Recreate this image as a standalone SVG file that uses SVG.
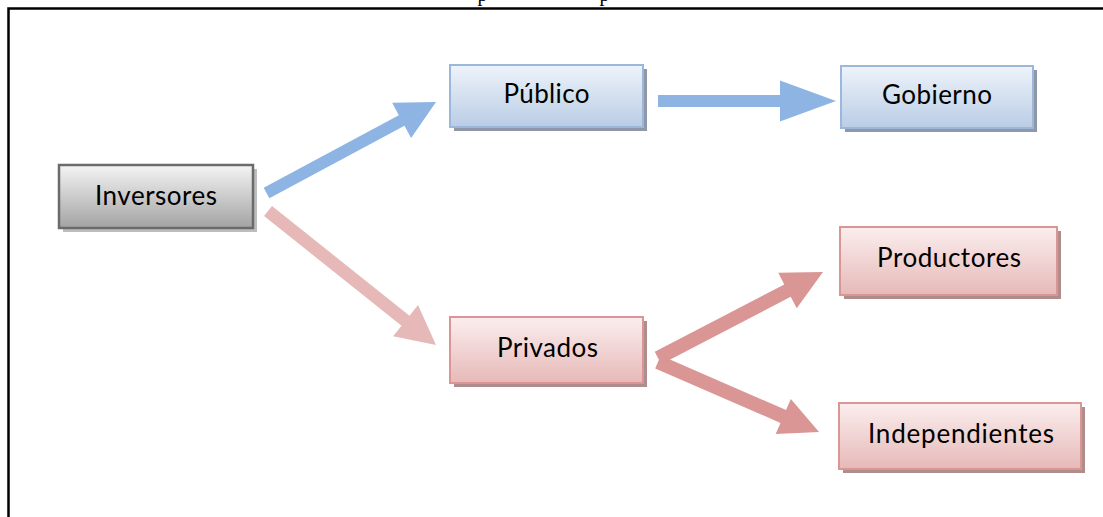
<svg xmlns="http://www.w3.org/2000/svg" width="1103" height="517" viewBox="0 0 1103 517">
  <style>
    .frame { fill: none; stroke: #000; stroke-width: 2.5; }
    .cut { font-family: "Liberation Serif", serif; font-size: 20px; fill: #000; }
    .label { font-family: Lato, "Liberation Sans", sans-serif; font-size: 26px; fill: #000; text-anchor: middle; }
    .gray .box { fill: url(#gGray); stroke: #6b6b6b; stroke-width: 2.5; }
    .gray .shadow { fill: #bdbdbd; }
    .blue .box { fill: url(#gBlue); stroke: #9bb7d9; stroke-width: 2; }
    .blue .shadow { fill: #8e98a8; }
    .red .box { fill: url(#gRed); stroke: #d99694; stroke-width: 2; }
    .red .shadow { fill: #b08d8d; }
    .arr-blue { fill: #8eb4e3; }
    .arr-light { fill: #e6b9b8; }
    .arr-red { fill: #d99694; }
  </style>
  <defs>
    <linearGradient id="gGray" x1="0" y1="0" x2="0" y2="1">
      <stop offset="0" stop-color="#f4f4f4"/>
      <stop offset="1" stop-color="#a3a3a3"/>
    </linearGradient>
    <linearGradient id="gBlue" x1="0" y1="0" x2="0" y2="1">
      <stop offset="0" stop-color="#eef3fa"/>
      <stop offset="1" stop-color="#b9cde5"/>
    </linearGradient>
    <linearGradient id="gRed" x1="0" y1="0" x2="0" y2="1">
      <stop offset="0" stop-color="#fbeeee"/>
      <stop offset="1" stop-color="#e6b9b8"/>
    </linearGradient>
  </defs>

  <rect width="1103" height="517" fill="#fff"/>

  <!-- page frame and the clipped caption line above it -->
  <path class="frame" d="M8.5,517 V8.5 H1103"/>
  <text class="cut" x="477.5" y="1">p</text>
  <text class="cut" x="599.5" y="1">p</text>

  <!-- block arrows -->
  <g id="connectors">
    <polygon class="arr-blue" transform="translate(266.5,193) rotate(-28.23)" points="0,-6 153.4,-6 153.4,-20 192.4,0 153.4,20 153.4,6 0,6"/>
    <polygon class="arr-blue" transform="translate(658,101)" points="0,-6 122,-6 122,-20.5 178,0 122,20.5 122,6 0,6"/>
    <polygon class="arr-light" transform="translate(268,211) rotate(38.57)" points="0,-6.4 175.9,-6.4 175.9,-20 214.9,0 175.9,20 175.9,6.4 0,6.4"/>
    <polygon class="arr-red" transform="translate(658,358) rotate(-27.5)" points="0,-7 146,-7 146,-20 186,0 146,20 146,7 0,7"/>
    <polygon class="arr-red" transform="translate(658,362) rotate(23.5)" points="0,-7 136.6,-7 136.6,-19 175.6,0 136.6,19 136.6,7 0,7"/>
  </g>

  <g id="inversores" class="gray">
    <rect class="shadow" x="63" y="169" width="194" height="63"/>
    <rect class="box" x="59" y="165" width="194" height="63"/>
    <text class="label" x="156" y="205" textLength="122">Inversores</text>
  </g>

  <g id="publico" class="blue">
    <rect class="shadow" x="454" y="69" width="193" height="62"/>
    <rect class="box" x="450" y="65" width="193" height="62"/>
    <text class="label" x="546.5" y="103" textLength="86">Público</text>
  </g>

  <g id="gobierno" class="blue">
    <rect class="shadow" x="845" y="70" width="192" height="62"/>
    <rect class="box" x="841" y="66" width="192" height="62"/>
    <text class="label" x="937" y="104" textLength="110">Gobierno</text>
  </g>

  <g id="privados" class="red">
    <rect class="shadow" x="454" y="321" width="193" height="66"/>
    <rect class="box" x="450" y="317" width="193" height="66"/>
    <text class="label" x="547.5" y="357" textLength="101">Privados</text>
  </g>

  <g id="productores" class="red">
    <rect class="shadow" x="844" y="231" width="217" height="68"/>
    <rect class="box" x="840" y="227" width="217" height="68"/>
    <text class="label" x="949" y="267" textLength="144">Productores</text>
  </g>

  <g id="independientes" class="red">
    <rect class="shadow" x="843" y="407" width="242" height="66"/>
    <rect class="box" x="839" y="403" width="242" height="66"/>
    <text class="label" x="961" y="443" textLength="186">Independientes</text>
  </g>
</svg>
